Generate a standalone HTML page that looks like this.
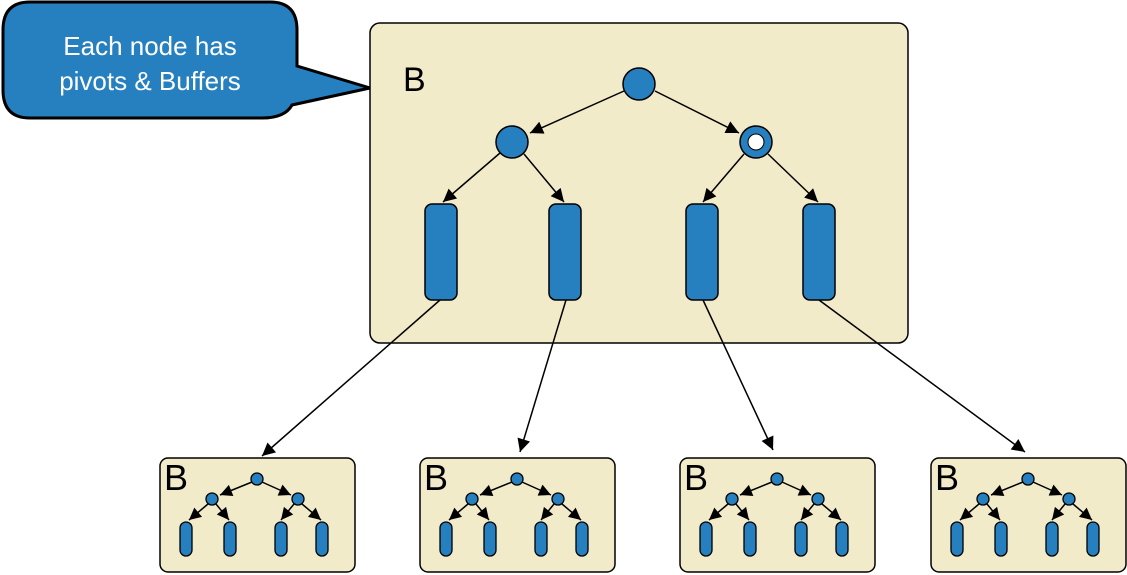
<!DOCTYPE html>
<html><head><meta charset="utf-8"><style>
html,body{margin:0;padding:0;background:#fff;}
svg{display:block;}
</style></head><body>
<svg width="1127" height="575" viewBox="0 0 1127 575" xmlns="http://www.w3.org/2000/svg">
<defs>
<marker id="b" viewBox="0 0 10 10" refX="10" refY="5" markerWidth="16" markerHeight="13" orient="auto" markerUnits="userSpaceOnUse"><path d="M0,0L10,5L0,10z" fill="#000"/></marker>
<marker id="s" viewBox="0 0 10 10" refX="10" refY="5" markerWidth="14" markerHeight="12" orient="auto" markerUnits="userSpaceOnUse"><path d="M0,0L10,5L0,10z" fill="#000"/></marker>
<g id="small">
<rect x="0" y="0" width="195" height="114" rx="8" fill="#f1ebc9" stroke="#000" stroke-width="1.5"/>
<text x="4" y="32" font-family="Liberation Sans, sans-serif" font-size="36" fill="#000">B</text>
<g stroke="#000" stroke-width="1.5">
<line x1="92" y1="24" x2="60" y2="37" marker-end="url(#s)"/>
<line x1="102" y1="24" x2="131" y2="37" marker-end="url(#s)"/>
<line x1="48" y1="46" x2="29" y2="62" marker-end="url(#s)"/>
<line x1="56" y1="46" x2="69" y2="62" marker-end="url(#s)"/>
<line x1="134" y1="46" x2="121" y2="62" marker-end="url(#s)"/>
<line x1="142" y1="46" x2="161" y2="62" marker-end="url(#s)"/>
</g>
<g fill="#2680bf" stroke="#000" stroke-width="1.3">
<circle cx="97" cy="21" r="6"/><circle cx="52" cy="41" r="6"/><circle cx="138" cy="41" r="6"/>
<rect x="20" y="64" width="12" height="34" rx="6"/>
<rect x="64" y="64" width="12" height="34" rx="6"/>
<rect x="115" y="64" width="12" height="34" rx="6"/>
<rect x="156" y="64" width="12" height="34" rx="6"/>
</g>
</g>
</defs>

<path d="M30,2 H270 Q297,2 297,30 V66 L370,88 L292,105 Q285,118 262,118 H30 Q3,118 3,90 V30 Q3,2 30,2 Z" fill="#2680bf" stroke="#000" stroke-width="3"/>
<text x="150" y="55" text-anchor="middle" font-family="Liberation Sans, sans-serif" font-size="26" fill="#fff">Each node has</text>
<text x="150" y="90" text-anchor="middle" font-family="Liberation Sans, sans-serif" font-size="26" fill="#fff">pivots &amp; Buffers</text>

<rect x="370" y="23" width="538" height="320" rx="10" fill="#f1ebc9" stroke="#000" stroke-width="1.5"/>
<text x="403" y="91" font-family="Liberation Sans, sans-serif" font-size="34" fill="#000">B</text>
<g stroke="#000" stroke-width="1.5">
<line x1="624" y1="91" x2="530" y2="133" marker-end="url(#b)"/>
<line x1="655" y1="91" x2="739" y2="133" marker-end="url(#b)"/>
<line x1="500" y1="153" x2="443" y2="202" marker-end="url(#b)"/>
<line x1="524" y1="154" x2="564" y2="202" marker-end="url(#b)"/>
<line x1="744" y1="154" x2="703" y2="202" marker-end="url(#b)"/>
<line x1="768" y1="154" x2="818" y2="202" marker-end="url(#b)"/>
<line x1="440" y1="300" x2="262" y2="456" marker-end="url(#b)"/>
<line x1="566" y1="300" x2="520" y2="452" marker-end="url(#b)"/>
<line x1="703" y1="300" x2="773" y2="450" marker-end="url(#b)"/>
<line x1="819" y1="300" x2="1025" y2="452" marker-end="url(#b)"/>
</g>
<g fill="#2680bf" stroke="#000" stroke-width="1.5">
<circle cx="639" cy="84" r="16"/>
<circle cx="512" cy="142" r="16"/>
<circle cx="756" cy="142" r="16"/>
<rect x="425" y="204" width="32" height="96" rx="7"/>
<rect x="549" y="204" width="32" height="96" rx="7"/>
<rect x="686" y="204" width="32" height="96" rx="7"/>
<rect x="803" y="204" width="32" height="96" rx="7"/>
</g>
<circle cx="756" cy="142" r="8" fill="#fff" stroke="#000" stroke-width="1"/>

<use href="#small" x="160" y="458"/>
<use href="#small" x="420" y="458"/>
<use href="#small" x="680" y="458"/>
<use href="#small" x="931" y="458"/>
</svg>
</body></html>
